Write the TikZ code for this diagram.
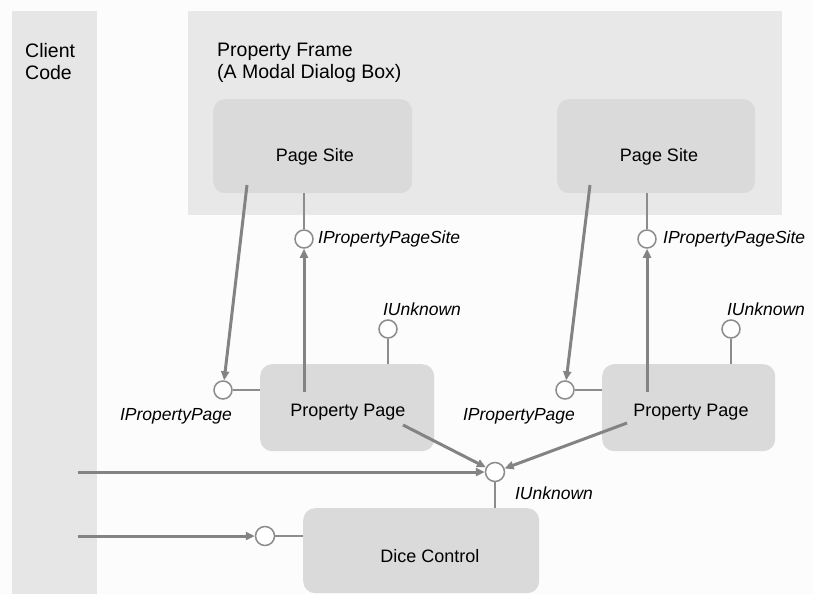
\documentclass[tikz,border=0pt]{standalone}
\usepackage{fontspec}
\setmainfont{Liberation Sans}
\usetikzlibrary{arrows.meta}
\definecolor{bgc}{HTML}{FCFCFC}
\definecolor{colc}{HTML}{E6E6E6}
\definecolor{framec}{HTML}{E8E8E8}
\definecolor{boxc}{HTML}{DADADA}
\definecolor{linec}{HTML}{8C8C8C}
\definecolor{arrc}{HTML}{838383}
\begin{document}
\begin{tikzpicture}[x=1pt,y=-1pt,
  comp/.style={draw=none,fill=boxc,rounded corners=12pt,inner sep=0pt,anchor=north west},
  lolly/.style={circle,draw=linec,line width=1.5pt,fill=white,minimum size=18pt,inner sep=0pt},
  stick/.style={draw=linec,line width=1.5pt},
  flow/.style={draw=arrc,line width=3pt,-{Triangle[length=9pt,width=8pt]}},
  lbl/.style={font=\fontsize{18}{22}\selectfont,inner sep=0pt},
  ilbl/.style={font=\fontsize{17.5}{21}\selectfont\itshape,inner sep=0pt},
  ttl/.style={font=\fontsize{19.5}{22}\selectfont,inner sep=0pt,align=left,anchor=north west}
  ]
\useasboundingbox (0,0) rectangle (814,594);
\fill[bgc] (0,0) rectangle (814,594);
% client code column
\fill[colc] (12,11) rectangle (97,594);
\node[ttl] (cc) at (25,43) {Client\\Code};
% property frame
\fill[framec] (188,11) rectangle (782,215);
\node[ttl] (pf) at (217,43) {Property Frame\\(A Modal Dialog Box)};
% components
\node[comp,minimum width=199pt,minimum height=94pt] (ps1) at (213,99) {};
\node[lbl] (ps1t) at (315,157) {Page Site};
\node[comp,minimum width=198pt,minimum height=94pt] (ps2) at (557,99) {};
\node[lbl] (ps2t) at (659,157) {Page Site};
\node[comp,minimum width=174pt,minimum height=87pt] (pp1) at (260,364) {};
\node[lbl] (pp1t) at (348,412) {Property Page};
\node[comp,minimum width=173pt,minimum height=87pt] (pp2) at (602,364) {};
\node[lbl] (pp2t) at (691,412) {Property Page};
\node[comp,minimum width=236pt,minimum height=85pt] (dc) at (303,508) {};
\node[lbl] (dct) at (430,556) {Dice Control};
% lollipops
\node[lolly] (is1) at (304,239) {};
\node[lolly] (is2) at (647,239) {};
\node[lolly] (ip1) at (223,390) {};
\node[lolly] (ip2) at (565,390) {};
\node[lolly] (iu1) at (388,329) {};
\node[lolly] (iu2) at (731,329) {};
\node[lolly,minimum size=19pt] (uc) at (495,472) {};
\node[lolly,minimum size=19pt] (dl) at (265,536) {};
% sticks
\draw[stick] (is1.north) -- (is1.north |- ps1.south);
\draw[stick] (is2.north) -- (is2.north |- ps2.south);
\draw[stick] (ip1.east) -- (ip1.east -| pp1.west);
\draw[stick] (ip2.east) -- (ip2.east -| pp2.west);
\draw[stick] (iu1.south) -- (iu1.south |- pp1.north);
\draw[stick] (iu2.south) -- (iu2.south |- pp2.north);
\draw[stick] (uc.south) -- (uc.south |- dc.north);
\draw[stick] (dl.east) -- (dl.east -| dc.west);
% labels
\node[ilbl,anchor=west] (is1l) at (318,239) {IPropertyPageSite};
\node[ilbl,anchor=west] (is2l) at (663,239) {IPropertyPageSite};
\node[ilbl] (iu1l) at (422,309) {IUnknown};
\node[ilbl] (iu2l) at (766,309) {IUnknown};
\node[ilbl] (ip1l) at (176,416) {IPropertyPage};
\node[ilbl] (ip2l) at (519,416) {IPropertyPage};
\node[ilbl] (ucl) at (554,493) {IUnknown};
% arrow start points
\coordinate (s1) at (247,185);
\coordinate (s2) at (590,185);
\coordinate (u1) at (304,392);
\coordinate (u2) at (647,392);
\coordinate (c1) at (403,425);
\coordinate (c2) at (627,423);
\coordinate (l1) at (78,472);
\coordinate (l2) at (78,536);
% flows
\draw[flow] (s1) -- (ip1);
\draw[flow] (s2) -- (ip2);
\draw[flow] (u1) -- (is1);
\draw[flow] (u2) -- (is2);
\draw[flow] (c1) -- (uc);
\draw[flow] (c2) -- (uc);
\draw[flow] (l1) -- (uc);
\draw[flow] (l2) -- (dl);
\end{tikzpicture}
\end{document}
